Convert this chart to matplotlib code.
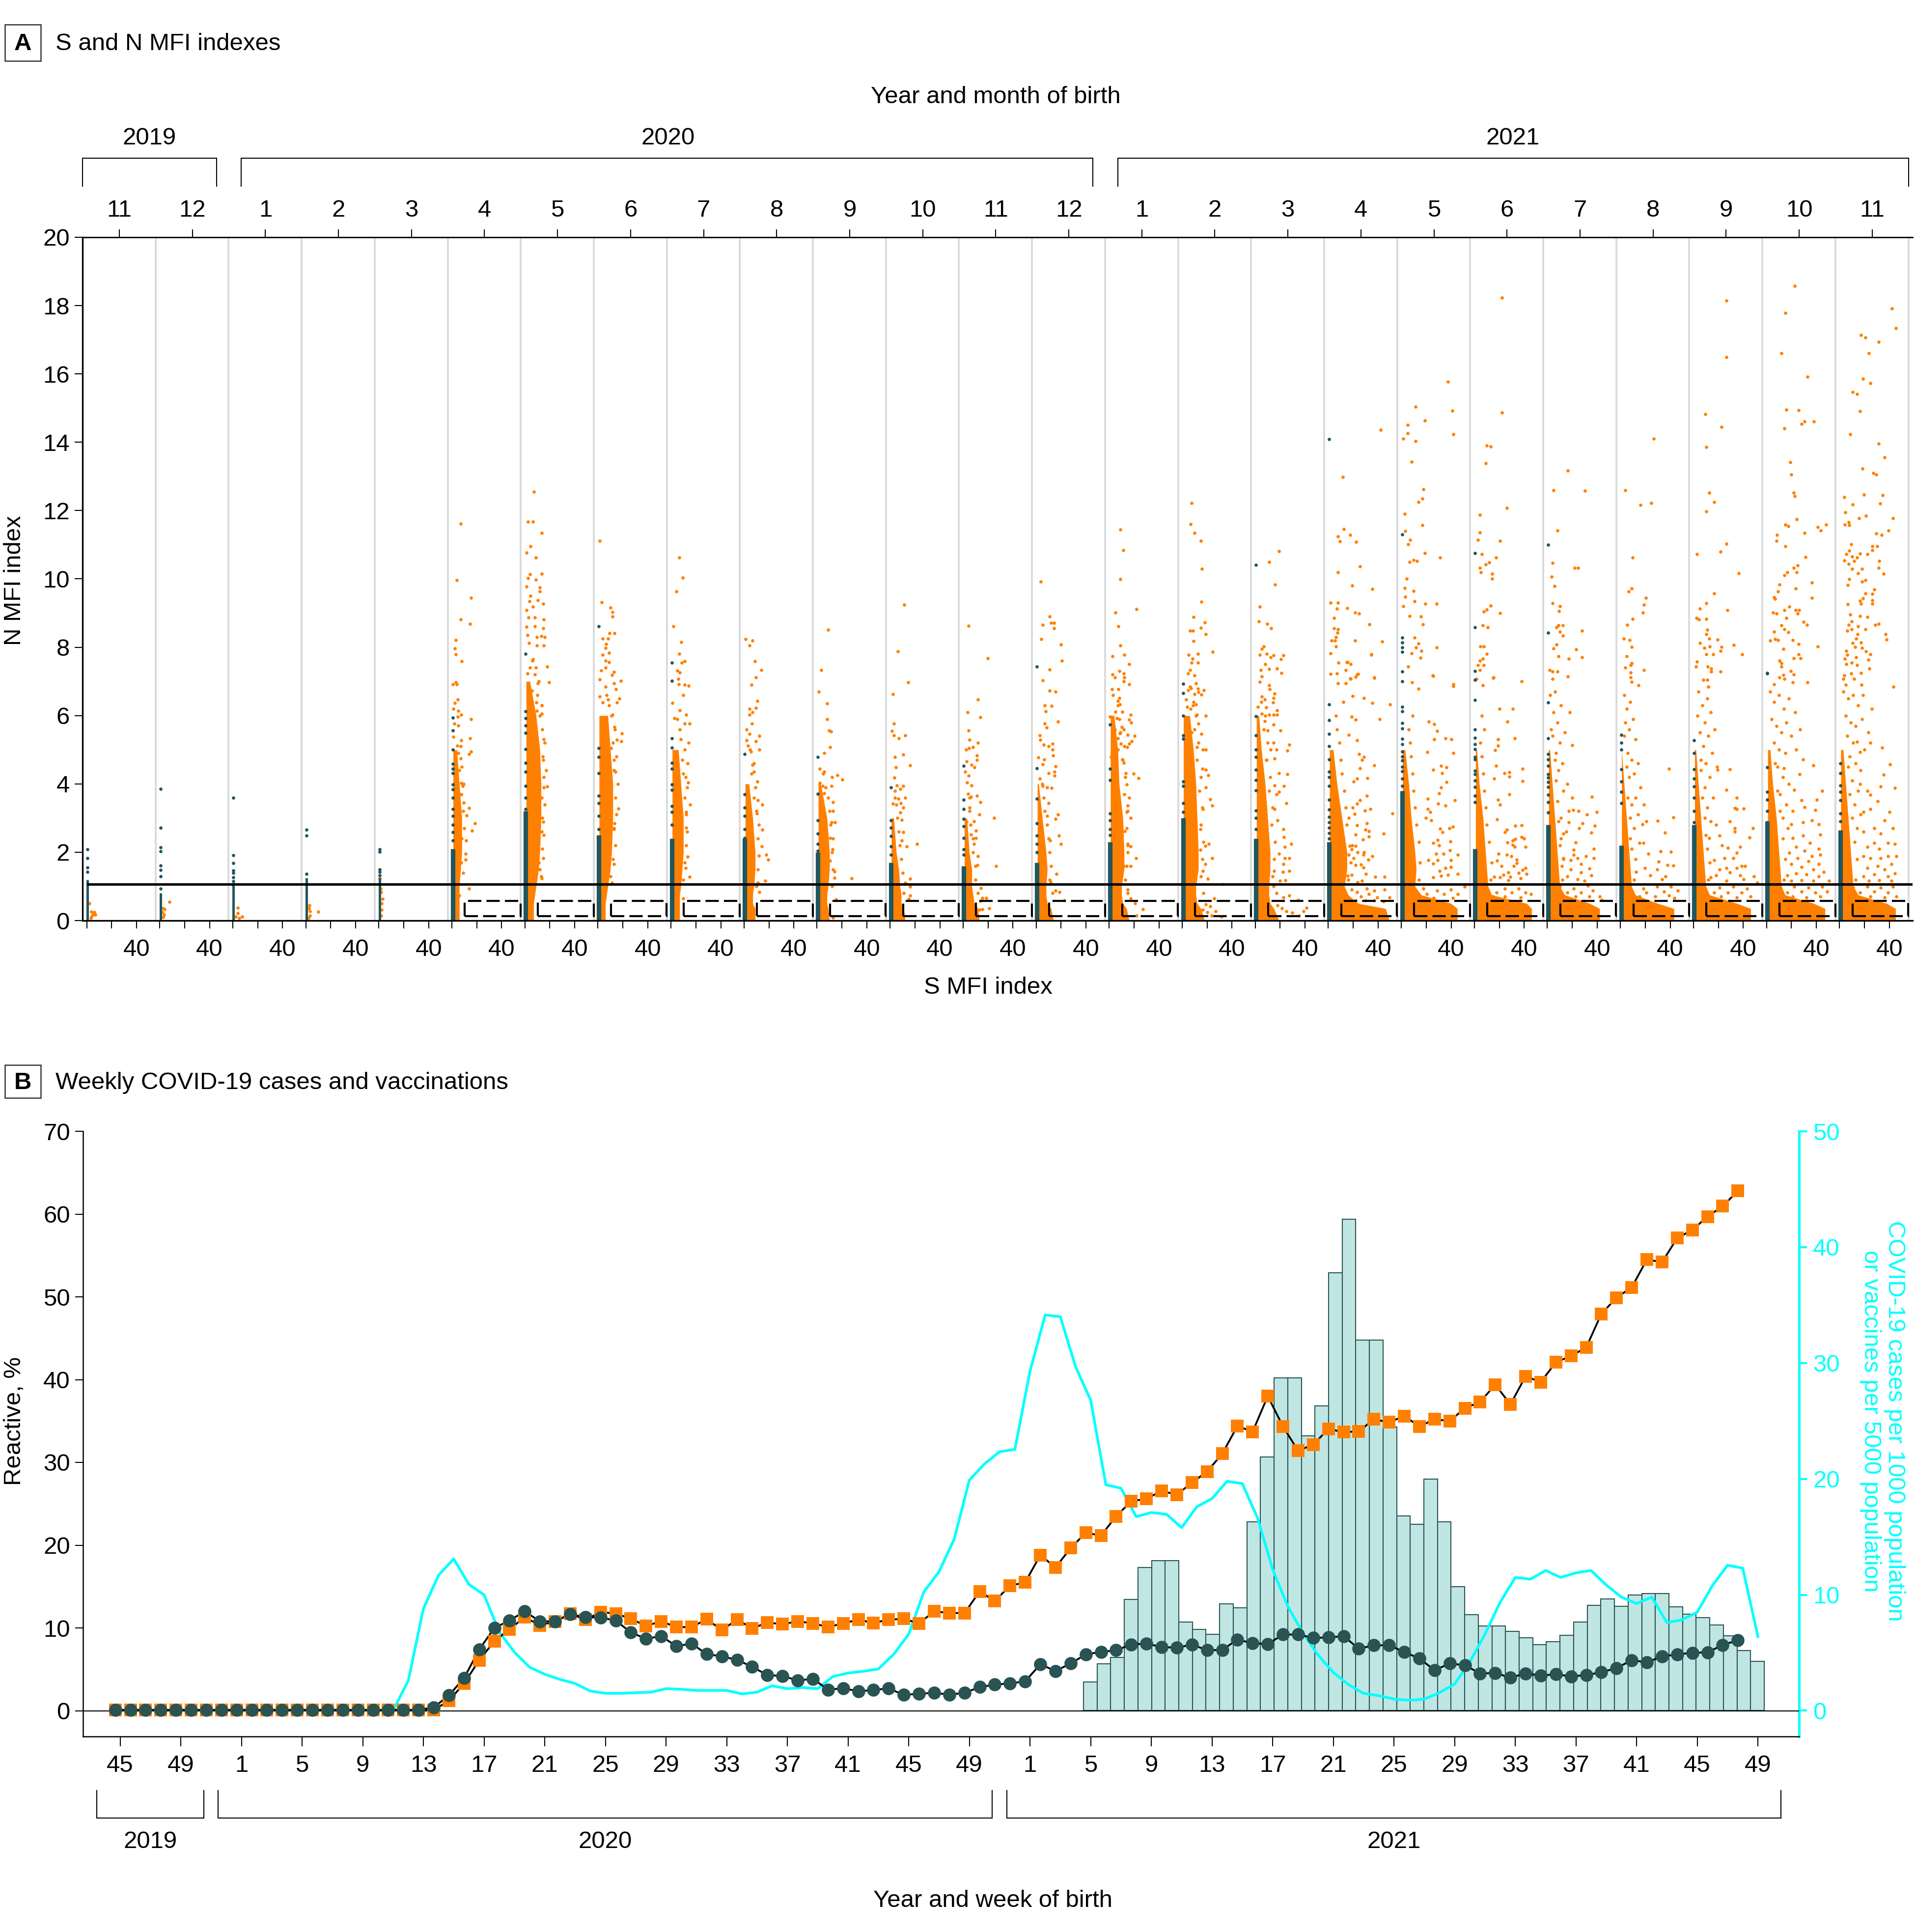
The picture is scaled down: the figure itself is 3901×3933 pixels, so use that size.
import numpy as np
import matplotlib
matplotlib.use('Agg')
import matplotlib.pyplot as plt
from matplotlib.lines import Line2D
from matplotlib.patches import Rectangle

W, H = 3901, 3933
FONT = ['Liberation Sans', 'DejaVu Sans']
plt.rcParams['font.family'] = FONT
plt.rcParams['font.size'] = 11.8

ORANGE = '#ff8000'
TEAL_A = '#20565f'
TEAL_B = '#2a5353'
CYAN = '#00ffff'
BAR = '#c0e6e4'
GRAY = '#d9d9d9'

# panel A: months, columns of the plot
months = [11, 12, 1, 2, 3, 4, 5, 6, 7, 8, 9, 10, 11, 12, 1, 2, 3, 4, 5, 6, 7, 8, 9, 10, 11]
s_ticks = [0, 20, 40]
cutoff_n = 1.06
box_s = (10.4, 55.2)
box_n = (0.13, 0.57)

# height of the solid dark column at S about 0
teal_solid = [1.2, 0.8, 1.05, 1.25, 1.25, 2.1, 3.2, 2.5, 2.4, 2.4, 2.0, 1.7, 1.6, 1.7, 2.3, 3.0, 2.4,
              2.3, 3.8, 2.1, 2.8, 2.2, 2.8, 2.9, 2.65]
# single dark dots above the column
teal_n = [
    [2.09, 1.83, 1.55, 1.42],
    [3.85, 2.72, 2.14, 2.03, 1.61, 1.48, 1.3, 0.94],
    [3.6, 1.91, 1.68, 1.47, 1.39, 1.27, 1.15],
    [2.66, 2.49, 1.36],
    [2.09, 2.01, 1.49, 1.42, 1.32],
    [5.94, 5.57, 5.0, 4.58, 4.45, 4.32, 3.98, 3.84, 3.6, 3.27, 3.06, 2.8, 2.59, 2.34],
    [7.81, 6.12, 5.93, 5.71, 5.49, 5.02, 4.62, 4.36, 3.94, 3.6, 3.27],
    [8.61, 5.04, 4.79, 4.32, 3.65, 3.44, 3.06, 2.68],
    [7.55, 7.02, 5.33, 5.06, 4.62, 4.45, 3.98, 3.82, 3.35, 3.18, 2.8],
    [4.87, 3.69, 3.31, 3.06, 2.68, 2.42],
    [4.79, 3.71, 2.93, 2.55, 2.25, 2.04],
    [3.9, 2.93, 2.72, 2.47, 2.17, 1.92],
    [4.53, 3.54, 3.27, 2.97, 2.76, 2.42, 2.09, 1.92],
    [7.43, 4.46, 3.56, 2.85, 2.49, 2.25, 2.0],
    [5.74, 4.45, 4.11, 3.14, 2.93, 2.68, 2.5],
    [6.93, 6.66, 6.0, 5.42, 5.32, 4.07, 3.94, 3.44, 3.18, 2.85, 2.5],
    [10.41, 5.98, 5.42, 5.0, 4.79, 4.42, 4.11, 3.81, 3.22, 3.0, 2.68],
    [14.09, 6.33, 5.86, 5.46, 5.11, 4.72, 4.35, 4.2, 3.94, 3.54, 3.25, 3.04, 2.88, 2.72, 2.56, 2.4],
    [11.3, 8.28, 8.14, 7.99, 7.87, 7.29, 7.0, 6.26, 6.12, 5.78, 5.62, 5.32, 5.16, 4.95, 4.8, 4.69, 4.5, 4.37, 4.15, 3.94],
    [10.75, 8.59, 7.31, 7.05, 6.45, 5.59, 5.35, 5.16, 5.02, 4.79, 4.71, 4.39, 4.29, 4.1, 3.91, 3.65, 3.46],
    [11.0, 8.42, 6.38, 5.34, 4.87, 4.71, 4.53, 4.29, 4.18, 4.05, 3.91, 3.68, 3.46, 3.17],
    [5.43, 5.2, 5.0, 4.43, 4.07, 3.77, 3.43],
    [5.27, 4.9, 4.43, 4.16, 3.93, 3.6, 3.21, 2.88],
    [7.23, 7.25, 4.49, 3.77, 3.54, 3.21, 2.88],
    [4.6, 4.32, 3.96, 3.77, 3.52, 3.13, 2.9],
]

# outline of the solid orange mass: widest S at each N level
core_n = [0, 0.35, 0.5, 0.75, 1, 1.5, 2, 3, 4, 5, 6, 7]
core_s = [
    [0] * 12, [0] * 12, [0] * 12, [0] * 12, [0] * 12,
    [6, 6, 6, 6, 6, 7, 8, 8, 6, 4, 0, 0],
    [7, 7, 7, 8, 9, 11, 12, 13, 13, 12, 9, 4],
    [6, 6, 6, 7, 8, 10, 11, 12, 12, 10, 8, 0],
    [7, 7, 7, 7, 8, 9, 10, 10, 8, 6, 0, 0],
    [9, 9, 7, 7, 8, 9, 9, 7, 4, 0, 0, 0],
    [10, 9, 8, 8, 9, 10, 10, 8, 3, 0, 0, 0],
    [12, 11, 9, 9, 8, 7, 5, 3, 0, 0, 0, 0],
    [13, 12, 9, 8, 7, 7, 5, 3, 0, 0, 0, 0],
    [14, 12, 9, 8, 8, 9, 8, 5, 2, 0, 0, 0],
    [16, 14, 11, 10, 10, 12, 12, 11, 8, 7, 4, 0],
    [18, 15, 12, 11, 11, 13, 13, 12, 11, 9, 6, 0],
    [19, 15, 12, 11, 11, 12, 12, 10, 8, 5, 3, 0],
    [49, 46, 24, 16, 13, 15, 15, 11, 7, 4, 0, 0],
    [45, 45, 40, 16, 11, 12, 11, 8, 6, 3, 0, 0],
    [46, 46, 42, 14, 11, 10, 9, 7, 4, 2, 0, 0],
    [42, 42, 34, 14, 10, 9, 8, 6, 4, 2, 0, 0],
    [43, 43, 30, 12, 9, 8, 7, 5, 3, 1, 0, 0],
    [46, 46, 35, 13, 10, 9, 8, 6, 4, 2, 0, 0],
    [47, 47, 38, 15, 12, 11, 10, 8, 5, 3, 0, 0],
    [45, 45, 38, 15, 11, 10, 9, 7, 5, 3, 0, 0],
]

# single orange dots, (S, N), read month by month
nov19 = [(2, .5), (3.8, .26), (6.3, .24), (7, .17), (3.8, .12), (5, .17), (6.3, .19), (3.3, .07)]
dec19 = [(7.8, .55), (3.8, .33), (2.5, .36), (3.3, .17), (2.5, .1), (2, .24)]
jan20 = [(3.8, .37), (3.8, .22), (7.6, .11), (5, .07), (2.5, .12)]
feb20 = [(3, .44), (3.3, .27), (10, .26), (3.3, .14), (2.5, .36), (2, .07)]
mar20 = [(.5, 1.23), (1.8, .83), (3, .63), (2.3, .5), (2.3, .31), (1.8, .14), (1.3, .94)]
apr20 = [(7.2, 11.62), (3.9, 9.97), (15.3, 9.44), (7.2, 8.81), (14.4, 8.68), (3.2, 8.21), (2.3, 7.96), (3.2, 7.79),
         (7.9, 7.59), (3, 6.98), (.7, 6.91), (4, 6.91), (4.6, 6.47), (2.5, 6.37), (1.2, 6.2), (5.3, 6.14), (7.6, 6.03),
         (15.3, 5.9), (4.9, 5.97), (1.9, 5.76), (5.3, 5.71), (1.2, 5.38), (7.6, 5.27), (14.4, 5.33), (15.3, 4.95),
         (13.9, 4.87), (4.2, 5.12), (7.2, 4.74), (7.6, 4.03), (8.8, 3.94), (7.6, 3.69), (9.5, 3.45), (13.7, 3.29),
         (11.8, 3.07), (18.5, 2.84), (16.2, 2.63), (11.3, 2.34), (11.1, 1.96), (11.1, 1.78), (7.6, 1.7), (13.7, .94),
         (5.8, .74),
         (9, 1.4), (8, 2.4), (10, 2.7), (9, 3.2), (7.5, 3.7), (9.5, 4.0), (6, 4.4), (8, 4.5), (5, 4.9), (7, 5.1)]
may20 = [(7.2, 12.55), (2.3, 11.67), (6.3, 11.67), (13.7, 11.35), (4.6, 10.95), (1.4, 10.77), (8.6, 10.63), (3.9, 10.14),
         (13.7, 10.15), (2.5, 10.02), (8.6, 9.98), (1.4, 9.78), (12, 9.75), (12, 9.63), (4.6, 9.51), (3.7, 9.34), (10.4, 9.37),
         (6.5, 9.19), (14.6, 9.28), (1.4, 9.08), (2.8, 8.87), (15.3, 8.81), (7.9, 8.87), (1.4, 8.6), (7.9, 8.61), (14.6, 8.56),
         (2.1, 8.35), (9.5, 8.29), (13.2, 8.33), (16, 8.29), (3.2, 8.12), (9.5, 8.05), (15.3, 8.05), (6.3, 7.65), (17.8, 7.43),
         (8.6, 7.4), (19.4, 6.98), (2.1, 7.23), (10.2, 6.94), (5.6, 6.73), (9, 6.39), (13.7, 6.3), (13.7, 6.05), (9.5, 6.14),
         (15.3, 5.3), (14.6, 4.7), (15.3, 4.2), (17.8, 3.92), (13.7, 3.6), (14.8, 2.89), (13.7, 2.6), (14.6, 1.83), (12, 1.5),
         (13.7, 1.24),
         (13, 1.3), (11, 1.7), (14, 2.1), (15, 2.5), (14, 3.0), (16, 3.4), (15, 3.9), (17, 4.4), (14.5, 4.8), (16, 5.2), (14, 5.6),
         (12, 6.0), (13.5, 6.3), (10, 6.6), (11, 7.0), (8, 7.2), (4, 7.4), (6, 7.6)]
jun20 = [(1.4, 11.12), (3, 9.31), (10.2, 9.16), (11.8, 9.03), (11.8, 8.9), (9.5, 8.41), (13.4, 8.41), (3.7, 8.26), (8.3, 8.25),
         (6.7, 8.1), (6, 7.98), (3.7, 7.78), (8.8, 7.84), (6, 7.61), (8.8, 7.57), (2.5, 7.32), (13, 7.28), (11.1, 7.19), (6, 7.4),
         (18.3, 7.02), (1.4, 7.06), (13, 6.94), (6, 6.85), (14.6, 6.77), (17.1, 6.5), (1.4, 6.56), (15.3, 6.39), (8.3, 6.47),
         (3.7, 6.39), (11.8, 6.03), (13.4, 5.67), (19, 5.48), (15.3, 5.29), (18.8, 5.25), (10.6, 5.04), (13, 4.7), (14.1, 4.35),
         (16.4, 3.28), (13.4, 2.84), (13, 2.68), (13, 1.66), (11.1, 1.11),
         (10, 1.3), (12, 1.8), (14, 2.2), (13, 2.7), (15, 3.1), (14, 3.6), (16, 4.0), (13, 4.4), (15, 4.8), (12, 5.2), (13.5, 5.6),
         (11, 6.0), (9, 6.3), (7, 6.6)]
jul20 = [(6.7, 10.63), (9.3, 10.04), (4.2, 9.64), (1.9, 8.61), (8.3, 8.15), (6.7, 7.81), (10.9, 7.59), (8.6, 7.55), (5.1, 7.32),
         (6.9, 7.26), (6, 7.08), (6.3, 6.92), (10.9, 6.9), (14.1, 6.87), (10, 6.6), (1.2, 6.37), (6.9, 6.16), (12, 6.03), (2.8, 5.92),
         (10.9, 5.76), (15, 5.77), (14.1, 5.21), (13.2, 4.6), (13.9, 4.04), (11.6, 4.2), (15.5, 3.39), (12, 3.18), (12, 2.72),
         (13.2, 1.87), (11.6, 1.54), (14.8, 1.28), (9.7, .65),
         (10, 1.2), (11, 1.7), (12, 2.2), (13, 2.6), (12, 3.1), (11, 3.6), (13, 3.9), (10, 4.3), (9, 4.7), (11, 5.0), (8, 5.3), (7, 5.6), (5, 5.9)]
aug20 = [(1.2, 8.24), (6.7, 8.2), (4.4, 8.05), (8.6, 7.59), (13.7, 7.33), (9.5, 7.12), (6, 6.9), (10.6, 6.42), (4.4, 6.2), (9.5, 6.22),
         (6.7, 6.09), (4.4, 6.03), (6.3, 5.77), (2.1, 5.59), (4.4, 5.47), (12.3, 5.4), (2.1, 5.27), (9.5, 5.25), (3.2, 5.12), (12.3, 5.01),
         (5.6, 4.95), (6.7, 4.56), (7.9, 4.36), (10.9, 4.07), (11.3, 3.52), (14.8, 3.39), (10.2, 3.14), (14.8, 2.66), (14.1, 2.17),
         (17.8, 1.93), (19.4, 1.78), (17.1, 1.16), (11.3, 1.11), (12.5, .83),
         (10, 1), (11, 1.5), (12, 1.9), (11, 2.4), (12, 2.8), (10, 3.2), (8, 3.6), (9, 3.9), (6, 4.3), (8, 4.6), (5, 5.0)]
sep20 = [(8.8, 8.51), (3.2, 7.33), (1.4, 6.7), (8.1, 6.36), (8.1, 5.9), (9.7, 5.57), (11.3, 5.53), (10.4, 5.08), (5.6, 4.9), (2.3, 4.45),
         (5.8, 4.36), (16.2, 4.25), (20.4, 4.12), (12, 4.2), (2.3, 4.03), (4.6, 3.94), (11.6, 3.94), (5.8, 3.73), (12.7, 3.46), (12.7, 3.2),
         (14.4, 2.88), (11.6, 2.88), (3.5, 3.35), (10.4, 2.42), (12.3, 2.09), (13.9, 1.44), (13.9, 1.25), (27.8, 1.23), (10.4, 1.75),
         (15, .62), (12.7, .08),
         (12, 1), (13, 1.5), (12, 2), (13, 2.4), (11, 2.8), (10, 3.2), (9, 3.6), (7, 3.9), (5, 4.3)]
oct20 = [(11.3, 9.24), (6.3, 7.88), (14.6, 6.98), (2.3, 6.63), (3, 5.77), (1.4, 5.55), (3, 5.42), (7.2, 5.33), (12, 5.42), (10.4, 4.86),
         (3.9, 4.79), (16, 4.54), (4.6, 4.49), (3.5, 4.19), (10.4, 3.94), (8.1, 3.86), (5.3, 3.96), (12.3, 3.59), (3.9, 3.6), (6.7, 3.56),
         (2.3, 3.42), (8.6, 3.44), (10.4, 3.31), (8.1, 3.17), (9.5, 2.95), (10.4, 2.59), (21.5, 2.25), (13.2, 2.17), (9.3, 2.34), (16, 1.22),
         (16.2, .99), (16.2, .73), (15, .63),
         (11, .8), (12, 1.1), (10, 1.4), (9, 1.8), (8, 2.2), (7, 2.6), (6, 3), (5, 3.4), (4, 3.8)]
nov20 = [(4.4, 8.63), (19.9, 7.68), (12, 6.47), (3.7, 6.1), (13.7, 5.95), (4.4, 5.57), (5.3, 5.29), (12, 5.2), (4.6, 5.04), (7.9, 5.07),
         (2.3, 5.0), (10.9, 4.83), (10.9, 4.7), (2.8, 4.66), (6.9, 4.56), (9.3, 4.49), (1.6, 4.36), (4.4, 4.24), (3, 4.04), (6.9, 3.96),
         (3.9, 3.71), (10.9, 3.65), (6.3, 3.62), (13.7, 3.46), (5.3, 3.31), (13.2, 3.1), (24.8, 3.01), (8.6, 2.91), (2.8, 2.89), (10.2, 2.63),
         (6.3, 2.51), (10.2, 2.42), (8.6, 2.25), (12, 1.89), (26.4, 1.6), (11.3, 1.62), (14.4, .95), (15.5, .66), (18.5, .66), (13.9, .57),
         (20.8, .36), (15.5, .33), (13.2, .31),
         (12, .8), (10, 1.2), (10, 1.6), (8, 2), (8, 2.4), (6, 2.8), (5, 3.2), (5, 3.6)]
dec20 = [(3.7, 9.92), (10.9, 8.9), (5.3, 8.65), (11.8, 8.71), (14.4, 8.71), (14.4, 8.56), (4.2, 8.24), (19.9, 8.08), (20.8, 7.6), (10.9, 7.35),
         (5.3, 7.03), (10.9, 6.73), (15.7, 6.7), (6.9, 6.3), (12.5, 6.28), (7.6, 6.12), (6.9, 5.77), (17.4, 5.82), (8.3, 5.65), (2.8, 5.42),
         (3.5, 5.29), (6, 5.15), (13, 5.17), (10.2, 5.1), (13, 5.0), (13.4, 4.83), (1.9, 4.77), (6.5, 4.72), (15.7, 4.52), (5.3, 4.57), (10, 4.32),
         (14.6, 4.35), (14.6, 4.24), (3, 4.15), (8.8, 3.9), (5.3, 3.94), (12.3, 3.88), (10, 3.44), (8.8, 3.06), (17.4, 3.11), (15.7, 2.97),
         (18.5, 2.49), (19.7, 2.25), (11.1, 2.34), (16.4, 1.37), (11.6, 1.14), (18.7, .84), (22.5, .59), (15.7, .87),
         (13, .8), (11, 1.2), (12, 1.6), (11, 2), (10, 2.4), (9, 2.8), (7, 3.2), (6, 3.6), (5, 4)]
jan21 = [(9, 11.44), (11.3, 10.84), (9, 9.99), (4.9, 9.01), (22, 9.11), (7.4, 8.61), (9, 8.05), (2.5, 7.73), (12.3, 7.78), (16.2, 7.5), (8.3, 7.31),
         (2.8, 7.21), (11.6, 7.23), (4.6, 7.11), (12, 7.11), (11.8, 7.0), (16.2, 6.92), (2.3, 6.77), (7.2, 6.77), (3, 6.6), (8.3, 6.52), (6.9, 6.43),
         (8.6, 6.32), (4.9, 6.11), (10.4, 6.11), (.7, 5.97), (6.3, 5.93), (16.2, 5.88), (17.4, 6.03), (17.8, 5.8), (10, 5.67), (4.6, 5.59), (11.6, 5.59),
         (8.6, 5.48), (15, 5.44), (20.4, 5.4), (3.5, 5.33), (6.9, 5.33), (18.1, 5.25), (16.2, 5.17), (9.3, 5.17), (14.6, 5.08), (2.3, 5.0), (6.9, 5.0),
         (10.4, 4.72), (1.6, 4.79), (4.6, 4.57), (11.6, 4.62), (19.7, 4.3), (23.6, 4.17), (13.2, 4.32), (13.9, 3.98), (16.2, 3.6), (15, 3.37), (13.9, 3.18),
         (17.4, 3.01), (12.7, 2.61), (15, 2.24), (17.4, 2.17), (15, 2.0), (21.5, 1.83), (17.4, 1.6), (11.6, 1.6), (15, .9), (17.4, .65), (20.8, .51),
         (27.1, .33), (22, .15),
         (15, .8), (13, 1.2), (14, 1.6), (15, 2.2), (14, 2.7), (15, 3.2), (12, 3.7), (13, 4.2), (11, 4.7), (12, 5.1), (9, 5.5), (8, 5.9), (7, 6.3)]
feb21 = [(7.4, 12.22), (6.7, 11.6), (9.7, 11.34), (14.8, 11.11), (15.7, 10.29), (15.5, 9.33), (9, 8.88), (18.1, 8.73), (14.8, 8.57), (6.3, 8.49), (8.6, 8.49),
         (19, 8.38), (9, 8.18), (24.5, 7.86), (5.1, 7.78), (12.5, 7.81), (8.3, 7.66), (12.5, 7.55), (7.4, 7.55), (6.5, 7.34), (4.6, 7.23), (9.7, 7.17), (10.9, 6.94),
         (6.3, 6.85), (12.5, 6.79), (17.4, 6.75), (4.6, 6.75), (9.7, 6.63), (15.5, 6.62), (13.2, 6.68), (3.2, 6.47), (8.6, 6.3), (10.9, 6.32), (3.9, 6.26), (6.7, 6.2),
         (19, 6.0), (12, 6.03), (3.9, 5.67), (13.2, 5.76), (15.5, 5.46), (7.4, 5.5), (16.7, 5.0), (19, 5.01), (12, 5.08), (16.2, 4.45), (19, 4.41), (20.8, 4.26), (19, 3.9),
         (22.5, 3.55), (24, 3.37), (16.7, 3.27), (14.4, 2.68), (21.3, 2.25), (18.5, 2.19), (14.4, 2.07), (24, 1.83), (18.5, 1.66), (16.7, 1.45), (20.6, 1.22), (32.2, 1.07),
         (25.5, .65), (19, .48), (22.5, .41), (27, .28), (31.7, .11), (16.7, .32), (23.6, .15), (20, .24),
         (17, .8), (15, 1.3), (16, 1.8), (17, 2.3), (15, 2.8), (16, 3.3), (14, 3.8), (15, 4.2), (12, 4.7), (13, 5.2), (10, 5.6), (11, 6), (9, 6.4), (7, 6.8)]
mar21 = [(19.2, 10.81), (11.1, 10.49), (16, 9.84), (3.7, 9.19), (3, 8.75), (9.5, 8.68), (12.7, 8.56), (6.9, 8.02), (5.3, 7.95), (3.7, 7.78), (9.3, 7.81), (14.6, 7.76),
         (22.7, 7.76), (20.8, 7.65), (12.3, 7.7), (7.9, 7.5), (4.6, 7.33), (11.1, 7.36), (17.6, 7.38), (21, 7.25), (5.3, 7.15), (3.7, 6.99), (11.1, 6.89), (11.6, 6.77),
         (15.7, 6.64), (5.3, 6.56), (14.6, 6.52), (7.6, 6.47), (14.4, 6.39), (1.9, 6.26), (8.8, 6.24), (17.6, 6.15), (5.3, 6.05), (11.1, 6.03), (14.6, 6.03), (17.6, 6.03),
         (7.6, 5.84), (14.6, 5.73), (20.1, 5.57), (10, 5.57), (27.3, 5.15), (25.7, 4.97), (14.6, 5.21), (12.3, 5.0), (16.9, 5.0), (15.7, 4.74), (8.8, 4.7), (19.2, 4.31),
         (25.7, 4.29), (23.1, 3.94), (19.2, 3.77), (15.7, 3.96), (16.9, 3.69), (25, 3.44), (15.7, 3.27), (18, 2.93), (22.7, 2.68), (28.9, 2.24), (23.8, 2.15), (23.1, 2.44),
         (19.2, 1.96), (27.3, 1.83), (23.8, 1.83), (22.7, 1.66), (27.3, 1.45), (15.3, 1.45), (22.2, 1.43), (19.7, 1.16), (24.3, 1.18), (14.6, 1), (27.3, .74), (22.7, .67),
         (18, .44), (34.3, .61), (41.2, .38), (38.9, .27), (35.4, .15), (29.6, .23), (25, .27), (21.5, .36),
         (17, .8), (14, 1.3), (15, 1.8), (16, 2.3), (13, 2.8), (14, 3.3), (11, 3.8), (12, 4.2), (9, 4.7), (10, 5.2), (7, 5.6), (8, 6), (5, 6.4)]
apr21 = [(41.9, 14.37), (11.8, 12.98), (12.6, 11.46), (7.7, 11.25), (17.5, 11.28), (9.4, 11.1), (22.4, 11.08), (25.6, 10.37), (7.7, 10.2), (19, 9.8), (35.5, 9.7), (1.9, 9.3),
         (7.7, 9.3), (6.8, 9.13), (15.2, 9.14), (21.6, 9.02), (24.8, 8.98), (4.5, 8.85), (33.1, 8.67), (4.5, 8.55), (7.7, 8.52), (7.3, 8.42), (6.2, 8.29), (2.6, 8.19), (5.3, 8.19),
         (21.6, 8.19), (43.4, 8.17), (6, 8.02), (1.9, 7.82), (34.6, 7.8), (8.3, 7.55), (15, 7.56), (18, 7.5), (14.1, 7.33), (1.9, 7.22), (6.8, 7.23), (23.9, 7.22), (21.8, 7.13),
         (37, 7.12), (17.5, 7.09), (7.7, 6.94), (14.1, 6.94), (34.5, 7.78), (37, 7.1), (28.6, 6.52), (35.5, 6.37), (49.5, 6.33), (41.2, 5.9), (23.3, 7.21), (15.8, 7.56), (18, 7.07),
         (19.5, 6.57), (18.8, 5.96), (21.8, 5.88), (23, 5.27), (16.5, 5.43), (24.5, 4.87), (28.6, 4.79), (27, 4.7), (37, 4.54), (25.6, 4.46), (31.4, 4.17), (23, 4.16), (20.3, 4.07),
         (31.2, 3.65), (25.6, 3.52), (23, 3.42), (19.5, 3.3), (33.6, 3.27), (29.4, 3.22), (51.4, 3.14), (21, 3.12), (16.5, 3.01), (23, 2.79), (31.2, 2.84), (29.7, 2.66), (32.7, 2.61),
         (21.8, 2.51), (32.7, 2.46), (44.5, 2.54), (27.9, 2.37), (17.3, 2.19), (22.1, 2.19), (18.8, 2.08), (23.6, 2), (28.6, 2), (28.2, 1.93), (16.5, 1.92), (35.2, 1.88), (32.1, 1.79),
         (20.3, 1.83), (22.1, 1.63), (26.4, 1.64), (28.2, 1.55), (30.2, 1.36), (18.8, 1.34), (15.8, 1.31), (37.7, 1.28), (45.3, 1.28), (23.6, 1.12), (27, 1.16), (18.8, .91), (23.3, .83),
         (31.2, .94), (37, .88), (45.3, .91), (26.4, .7), (32.4, .78), (39.4, .67), (49, .67), (15.8, .7), (21.8, .59), (30, .59), (37, .59), (44.5, .56),
         (16, 1.2), (18, 1.7), (19, 2.2), (15, 2.8), (14, 3.3), (13, 3.8), (11, 4.3), (10, 4.7), (9, 5.2), (7, 5.6), (6, 6), (12, 6.4)]
may21 = [(37.6, 15.77), (11.5, 15.04), (40.8, 14.92), (18.8, 14.64), (4.9, 14.51), (4.9, 14.26), (41.7, 14.24), (1.7, 14.11), (11.5, 14.04), (8.1, 13.43), (17.9, 12.63), (17.1, 12.35),
         (13.9, 12.25), (2.6, 11.91), (17.1, 11.58), (3.2, 11.4), (7.1, 11.14), (5.6, 11.01), (18.8, 10.75), (31, 10.63), (6.6, 10.5), (9.8, 10.56), (12.4, 10.52), (4.3, 10), (2.6, 9.74),
         (9.8, 9.65), (3.2, 9.47), (10.7, 9.35), (19.4, 9.27), (28.4, 9.27), (1.7, 9.2), (6.6, 8.92), (15.6, 8.9), (17.3, 8.67), (10.7, 8.28), (13.9, 8.11), (28.4, 7.99), (11.8, 7.99),
         (16.2, 7.89), (8.1, 7.82), (15.4, 7.69), (5.3, 7.44), (25.4, 7.17), (41.7, 6.92), (8.5, 6.97), (13.9, 6.78), (25.5, 7.16), (41.8, 6.86), (26.2, 5.75), (22.1, 5.82), (28.8, 5.55),
         (35.3, 5.34), (40.2, 5.3), (26.2, 5.3), (41.8, 4.9), (20.9, 4.93), (32, 4.53), (36.1, 4.49), (25.5, 4.42), (32.7, 4.31), (36.1, 4.05), (32, 3.89), (30.3, 3.73), (21.4, 3.57), (42.9, 3.52),
         (29.5, 3.42), (35.3, 3.37), (21.4, 3.27), (23.2, 3.18), (19.7, 3.01), (23.9, 2.94), (41.5, 2.74), (38.6, 2.71), (31.2, 2.69), (33, 2.59), (29.2, 2.36), (39.4, 2.31), (25.5, 2.27), (30.3, 2.2),
         (39.1, 2.06), (28, 1.96), (33.8, 1.96), (45.2, 1.92), (29.2, 1.77), (39.8, 1.77), (21.7, 1.77), (25.5, 1.67), (35.3, 1.54), (39.8, 1.57), (30.8, 1.45), (45.2, 1.36), (37.6, 1.34), (25.5, 1.27),
         (32, 1.31), (17.7, .93), (28.8, .88), (39.9, .91), (51, .99), (20.5, .77), (34.3, .77), (45.4, .77), (12.2, .82), (26, .66), (41.3, .66), (16.3, .66),
         (14, 1.2), (15, 1.7), (14, 2.3), (12, 2.8), (11, 3.3), (10, 3.8), (9, 4.3), (8, 4.8), (7, 5.2), (6, 5.6), (9, 6)]
jun21 = [(22.2, 18.23), (22.2, 14.86), (10, 13.91), (13.2, 13.87), (9.2, 13.39), (26.3, 12.08), (4.3, 11.88), (4.3, 11.36), (2.8, 11.15), (20.7, 11.11), (6, 10.72), (17.3, 10.63), (11.8, 10.48),
         (9.2, 10.42), (4.5, 10.33), (5.1, 10.19), (14.1, 10.15), (14.1, 10), (13.2, 9.21), (10, 9.1), (7.5, 9.05), (20.7, 9), (6.8, 8.64), (10.9, 8.59), (4.9, 8.02), (7.7, 8.02), (10, 7.81), (6.6, 7.66),
         (4.3, 7.6), (2.8, 7.48), (7.5, 7.47), (4.3, 7.33), (15.6, 7.12), (1.7, 7.07), (6.6, 6.88), (37.9, 7), (15.2, 7.1), (20, 6.2), (30.8, 6.2), (26.5, 5.82), (32.3, 5.34), (18.9, 5.3), (18.9, 5.12),
         (16.7, 4.99), (38.6, 4.45), (24.2, 4.31), (28, 4.34), (28, 4.21), (17.4, 4.53), (38.6, 4.09), (15.9, 4.15), (28, 3.7), (18.9, 3.54), (20.5, 3.39), (18.2, 2.96), (32.9, 2.77), (37.9, 2.79), (26.2, 2.66),
         (24.6, 2.59), (37.9, 2.45), (40, 2.4), (32.9, 2.38), (30.7, 2.34), (26.5, 2.28), (30.7, 2.21), (41.1, 2.16), (32.5, 2.16), (19.6, 1.95), (26.2, 1.92), (29.5, 1.88), (34, 1.79), (18.2, 1.76), (21.9, 1.6),
         (31.8, 1.6), (34, 1.68), (41.1, 1.54), (38.6, 1.48), (27.3, 1.41), (35.6, 1.4), (23.5, 1.34), (42, 1.36), (15.9, 1.28), (28.8, 1.28), (20.5, 1.26), (37.1, 1.23), (27.3, 1.18), (10.8, .91), (24.7, .93),
         (35.7, .93), (17.7, .82), (30.2, .82), (41.3, .82), (15, .71), (24.7, .71), (37.1, .68), (45.4, .77),
         (13, 1.2), (14, 1.7), (12, 2.3), (10, 2.8), (9, 3.3), (8, 3.8), (7, 4.3), (6, 4.8), (5, 5.2), (8, 5.6), (6, 6)]
jul21 = [(16.2, 13.17), (5, 12.6), (30.1, 12.58), (8, 11.42), (4.1, 10.47), (21.9, 10.33), (24.7, 10.32), (3.2, 10.07), (5.6, 9.79), (4.1, 9.29), (10, 9.2), (9.1, 9.06), (12.3, 8.64), (8.9, 8.64), (7.4, 8.58),
         (27.7, 8.49), (10, 8.45), (12.3, 8.34), (7.4, 8.08), (5, 7.96), (22.9, 7.94), (8.9, 7.73), (27.7, 7.71), (17.1, 7.66), (1.7, 7.33), (4.1, 7.29), (8, 7.29), (16.2, 7.15), (4.1, 7.07), (19.9, 5.14), (35.7, 3.63),
         (20.8, 3.24), (24.9, 3.21), (31.6, 3.1), (39.6, 3.18), (28.3, 2.85), (38, 2.77), (35.2, 2.57), (17.2, 2.88), (25.5, 2.71), (13, 2.54), (22.7, 2.29), (21.3, 2.07), (37.1, 2.1), (31, 1.88), (21.3, 1.93), (24.1, 1.82),
         (18.6, 1.77), (37.4, 1.82), (26.9, 1.66), (33.8, 1.52), (18.6, 1.49), (13, 1.82), (26.9, 1.41), (35.2, 1.32), (15.8, 1.29), (24.1, 1.21), (29.6, 1.16), (11.6, 1.6), (10.2, .99), (21.3, .93), (32.4, 1.02), (15.8, .82),
         (26.9, .82), (36.6, .88), (42.1, .71), (22.7, .71), (33.8, .71), (10.2, .77), (43.5, .6),
         (3, 5.6), (5, 6.1), (8, 5.8), (11, 6.3), (2, 6.6), (6, 6.7), (14, 5.5), (10, 5.2), (4, 5.4), (18, 6.1), (7, 4.9), (12, 4.6), (9, 4.4), (16, 4.0), (20, 3.6), (13, 3.8), (17, 3.2), (11, 3.0), (15, 2.6), (10, 2.2),
         (12, 1.2), (13, 1.8), (11, 2.4), (9, 2.9), (8, 3.5), (7, 4.1), (6, 4.7)]
aug21 = [(26.9, 14.11), (4, 12.6), (16.1, 12.17), (24.6, 12.22), (9.8, 10.62), (9, 9.72), (6.6, 9.64), (20.5, 9.44), (18.7, 9.24), (17.9, 9.01), (9.8, 8.83), (5.5, 8.66), (2.5, 8.26), (7.5, 8.21), (9, 8.01), (4.9, 7.73),
         (9, 7.53), (8.1, 7.47), (4, 7.4), (18.7, 7.33), (8.1, 7.26), (8.1, 7.11), (9, 6.99), (14.6, 6.89), (39, 4.44), (29.9, 2.92), (21, 2.91), (17.7, 2.82), (42.7, 3.02), (35.7, 2.57), (15.5, 2.27), (18.3, 2.27), (40.4, 2.02),
         (32.1, 2.03), (22.4, 1.96), (30.7, 1.72), (37.7, 1.63), (42.7, 1.61), (29.4, 1.49), (19.7, 1.54), (36.3, 1.29), (33.5, 1.21), (23.8, 1.32), (12.7, 1.43), (46, .88), (40.4, .99), (18.3, .93), (29.4, .99), (21, .82),
         (34.9, .85), (15.5, .71), (28, .71), (39, .74), (43.2, .66),
         (3, 6.6), (5, 6.2), (8, 6.4), (4, 5.8), (7, 5.6), (10, 5.9), (3, 5.4), (12, 5.3), (6, 4.9), (9, 4.7), (14, 4.6), (11, 4.3), (7, 4.2), (16, 3.9), (12, 3.6), (9, 3.4), (14, 3.1), (19, 3.4), (11, 2.7), (8, 2.4),
         (11, 1.2), (12, 1.8), (9, 2.1), (8, 3.0), (6, 3.6), (5, 4.5)]
sep21 = [(26.5, 18.15), (26.5, 16.49), (9.4, 14.83), (22.6, 14.45), (10.3, 13.86), (12.7, 12.52), (16.8, 12.25), (10.3, 11.97), (26.5, 11.03), (21.8, 10.8), (2.9, 10.72), (36.3, 10.17), (16.8, 9.57), (10.3, 9.29), (5.3, 9.13),
         (27.4, 9.09), (2.5, 8.86), (4.4, 8.82), (10.3, 8.83), (10.9, 8.51), (10.3, 8.38), (12.7, 8.26), (19.2, 8.23), (5.3, 8.13), (32.4, 8.06), (22.4, 8.01), (13.1, 8.02), (8.8, 7.98), (21.8, 7.9), (10.3, 7.79), (15.9, 7.79),
         (38.9, 7.8), (2.9, 7.58), (2.1, 7.43), (11.6, 7.43), (14.4, 7.37), (14.4, 7.29), (21.8, 7.29), (7.9, 7.04), (11.1, 7.04), (11.8, 6.85), (29.1, 4.43), (19.4, 4.41), (26.3, 3.82), (34.6, 3.6), (34.6, 3.27), (33.2, 3.29),
         (40.2, 3.28), (29.1, 2.91), (33.2, 2.71), (33.2, 2.6), (47.9, 2.71), (45.2, 2.43), (20.8, 2.49), (12.5, 2.41), (27.7, 2.13), (37.4, 2.16), (34.6, 1.99), (31.9, 1.82), (24.9, 1.82), (16.6, 1.77), (26.3, 1.54), (38.8, 1.6),
         (34.6, 1.54), (41.6, 1.6), (20.8, 1.49), (29.1, 1.41), (37.4, 1.32), (48.5, 1.29), (18, 1.32), (40.2, 1.21), (26.3, 1.16), (13.9, 1.27), (51.2, 1.11), (9.7, .93), (20.8, .96), (31.9, .99), (42.9, .93), (16.6, .82),
         (27.7, .82), (38.8, .82), (22.2, .71), (34.6, .68), (45.7, .71),
         (4, 6.7), (7, 6.3), (11, 6.5), (3, 6.0), (9, 5.8), (14, 6.1), (5, 5.5), (12, 5.4), (17, 5.6), (8, 5.1), (15, 4.9), (10, 4.6), (6, 4.4), (19, 4.5), (13, 4.2), (9, 3.9), (16, 3.6), (11, 3.3), (14, 2.9), (18, 2.8), (10, 2.5), (23, 2.2),
         (12, 1.2), (13, 1.7), (11, 2.1), (9, 3.0), (7, 3.6), (6, 4.7)]
oct21 = [(22.6, 18.58), (15, 17.79), (12, 16.61), (33, 15.92), (16.1, 14.95), (25.9, 14.94), (30.6, 14.61), (28.2, 14.53), (38, 14.61), (14.4, 14.4), (19.2, 13.42), (20, 13.05), (21.8, 12.52), (22.6, 12.42), (24.1, 11.75),
         (15.3, 11.59), (17.6, 11.54), (41.2, 11.52), (47.9, 11.59), (43.6, 11.42), (30.6, 11.35), (8.5, 11.29), (7.9, 11.12), (15.3, 10.96), (31.5, 10.64), (25, 10.4), (21.8, 10.32), (24.1, 10.19), (16.8, 10.19), (14.4, 10.11),
         (36.5, 9.89), (10.3, 9.84), (23.3, 9.72), (9.4, 9.64), (6, 9.46), (6.8, 9.42), (36.5, 9.44), (18.5, 9.19), (23.3, 9.09), (26.1, 9.09), (14.4, 9.09), (5.3, 9.01), (7.9, 8.98), (25, 8.98), (16.1, 8.86), (29.8, 8.74), (32.4, 8.66),
         (12, 8.64), (14.4, 8.53), (6.2, 8.45), (17.6, 8.44), (2.9, 8.19), (7, 8.24), (9.4, 8.21), (20.9, 8.21), (25.9, 8.09), (41.2, 8.03), (13.5, 7.95), (25.9, 7.79), (21.8, 7.68), (27.4, 7.68), (10.3, 7.61), (12, 7.54), (12, 7.43),
         (19.4, 7.31), (21.8, 7.21), (13.5, 7.19), (10.3, 7.11), (14.4, 7.07), (33, 6.98), (20.9, 6.97), (6.2, 6.91), (44.6, 3.79), (37.7, 4.54), (14.1, 4.46), (26.6, 4.29), (29.4, 4.71), (22.4, 3.82), (28, 3.52), (40.4, 3.54), (30.7, 3.32),
         (21.1, 3.21), (39.1, 3.24), (43.2, 2.52), (36.3, 2.93), (29.4, 2.88), (19.7, 2.82), (41.8, 2.82), (21.1, 2.41), (29.4, 2.49), (34.9, 2.27), (23.8, 2.16), (41.8, 2.1), (30.7, 2.04), (18.3, 1.99), (43.2, 1.93), (36.3, 1.88), (25.2, 1.82),
         (33.5, 1.74), (19.7, 1.66), (41.8, 1.66), (28, 1.57), (37.7, 1.49), (46, 1.43), (23.8, 1.38), (32.1, 1.35), (41.8, 1.29), (16.9, 1.32), (50.1, 1.16), (28, 1.18), (37.7, 1.16), (19.7, 1.16), (11.4, .96), (22.4, .99), (33.5, .96), (44.6, .99),
         (16.9, .82), (28, .85), (39.1, .82), (48.8, .85), (8.6, .71), (21.1, .71), (32.1, .68), (43.2, .71),
         (3, 6.7), (6, 6.4), (10, 6.6), (14, 6.2), (18, 6.5), (23, 6.1), (4, 5.9), (8, 5.7), (12, 5.5), (16, 5.8), (20, 5.4), (27, 5.6), (6, 5.2), (10, 5.0), (15, 4.9), (24, 5.0), (9, 4.5), (13, 4.2), (18, 4.0), (11, 3.7), (16, 3.4), (13, 3.0), (17, 2.7),
         (14, 1.2), (15, 1.8), (13, 2.4), (11, 3.2), (9, 3.8), (7, 4.6)]
nov21 = [(41.9, 17.92), (45.1, 17.34), (17.4, 17.14), (20.7, 17.07), (31.3, 16.94), (23.7, 16.61), (19, 15.86), (24.8, 15.73), (10.7, 15.47), (14.2, 15.41), (16.6, 14.91), (8.5, 14.23), (31.3, 13.96), (36, 13.56), (18.3, 13.23), (27, 13.1),
         (29.5, 13.05), (3.8, 12.4), (19.8, 12.47), (34.5, 12.45), (10.7, 12.18), (32.8, 12.2), (4.7, 11.95), (15.7, 11.77), (21.3, 11.85), (42.7, 11.77), (7.2, 11.66), (4.4, 11.59), (7.9, 11.57), (39.3, 11.42), (29.5, 11.33), (33.7, 11.28),
         (9.2, 11.01), (26.3, 10.96), (30.2, 10.96), (26.3, 10.84), (7.7, 10.82), (5.5, 10.72), (10.1, 10.65), (16.6, 10.74), (22.2, 10.72), (14.2, 10.62), (3.8, 10.54), (11.8, 10.52), (7.2, 10.44), (31.9, 10.52), (31.3, 10.33), (10.1, 10.29),
         (18.1, 10.29), (14.8, 10.17), (35.2, 10.15), (7.7, 9.99), (20.7, 9.97), (18.1, 9.92), (6.4, 9.82), (27.8, 9.69), (20.7, 9.58), (26.3, 9.56), (19, 9.43), (26.3, 9.38), (16.6, 9.36), (6.4, 9.26), (17.2, 9.27), (26.3, 9.27), (8.5, 8.96),
         (16.6, 8.91), (22.2, 8.89), (9.8, 8.75), (7.2, 8.66), (28.7, 8.66), (31.3, 8.69), (14.8, 8.61), (20.7, 8.53), (9.6, 8.52), (6.2, 8.49), (36.9, 8.38), (14.4, 8.38), (37.8, 8.23), (13.3, 8.26), (17.2, 8.14), (10.7, 8.12), (12.4, 8.01),
         (18.1, 7.98), (5.3, 7.9), (21.3, 7.88), (24.8, 7.79), (6, 7.78), (13.3, 7.71), (23.1, 7.63), (4.4, 7.67), (9.8, 7.55), (14.2, 7.48), (23.9, 7.38), (5.5, 7.51), (17.2, 7.25), (3.8, 7.18), (9.2, 7.23), (11.8, 7.07), (3.2, 7.07), (17.7, 6.9),
         (4.9, 6.9), (43.4, 6.84), (34.1, 5.06), (40.7, 4.57), (35.5, 4.27), (24.9, 5.21), (16.6, 4.93), (13.9, 5.24), (33.2, 3.93), (44.3, 3.88), (22.2, 3.79), (24.9, 3.68), (16.6, 3.99), (30.5, 3.49), (40.2, 3.18), (19.4, 3.18), (24.9, 3.27),
         (36, 2.93), (42.9, 2.71), (27.7, 2.71), (33.2, 2.54), (19.4, 2.6), (38.8, 2.27), (44.3, 2.24), (27.7, 2.27), (22.2, 2.16), (31.9, 2.1), (45.7, 1.88), (38.8, 1.88), (24.9, 1.82), (33.2, 1.82), (19.4, 1.88), (41.5, 1.66), (30.5, 1.6),
         (22.2, 1.54), (36, 1.49), (44.3, 1.38), (27.7, 1.35), (38.8, 1.29), (19.4, 1.29), (31.9, 1.18), (41.5, 1.16), (23.5, 1.16), (11.1, .96), (22.2, .99), (33.2, .96), (42.9, .99), (16.6, .82), (27.7, .85), (38.8, .82), (13.9, .71), (24.9, .71),
         (36, .68), (45.7, .71),
         (3, 6.7), (7, 6.5), (11, 6.6), (15, 6.3), (19, 6.6), (26, 6.2), (5, 6.0), (9, 5.8), (13, 5.7), (18, 5.9), (23, 5.5), (6, 5.4), (11, 5.2), (20, 5.0), (8, 4.8), (13, 4.6), (17, 4.4), (10, 4.1), (15, 3.8), (12, 3.4), (17, 3.1), (14, 2.7),
         (13, 1.2), (14, 1.8), (12, 2.3), (10, 3.0), (8, 3.7), (7, 4.5)]
orange_dots = [nov19, dec19, jan20, feb20, mar20, apr20, may20, jun20, jul20, aug20, sep20, oct20, nov20, dec20,
               jan21, feb21, mar21, apr21, may21, jun21, jul21, aug21, sep21, oct21, nov21]

# panel B: one value per week, starting at week 45 of 2019
orange_pct = [0.1] * 21 + [0.1, 1.2, 3.3, 6.1, 8.4, 9.85, 11.3, 10.3, 10.8, 11.7, 11.0, 11.9, 11.75, 11.1, 10.25, 10.8, 10.1, 10.1, 11.05,
              9.75, 11.0, 9.95, 10.65, 10.45, 10.8, 10.55, 10.1, 10.55, 11.0, 10.6, 11.0, 11.1, 10.55, 12.0, 11.8, 11.8, 14.4, 13.25,
              15.1, 15.5, 18.8, 17.3, 19.65, 21.5, 21.15, 23.5, 25.3, 25.6, 26.55, 26.1, 27.55, 28.9, 31.05, 34.4, 33.7, 38.0, 34.35,
              31.4, 32.15, 34.05, 33.65, 33.75, 35.2, 34.85, 35.6, 34.35, 35.2, 35.0, 36.55, 37.3, 39.4, 37.0, 40.4, 39.7, 42.1, 42.85,
              43.9, 47.95, 49.9, 51.15, 54.5, 54.2, 57.1, 58.1, 59.7, 60.95, 62.8]
teal_pct = [0.1] * 21 + [0.4, 1.85, 3.95, 7.4, 10.0, 10.9, 12.0, 10.8, 10.8, 11.65, 11.3, 11.25, 10.9, 9.45, 8.7, 9.0, 7.8, 8.1, 6.85, 6.55,
            6.15, 5.3, 4.3, 4.2, 3.65, 3.85, 2.55, 2.7, 2.35, 2.5, 2.7, 1.9, 2.05, 2.15, 1.95, 2.15, 2.85, 3.15, 3.3, 3.55, 5.6, 4.8, 5.7,
            6.8, 7.1, 7.3, 8.0, 8.1, 7.7, 7.6, 8.0, 7.3, 7.35, 8.6, 8.15, 8.05, 9.2, 9.2, 8.8, 8.85, 9.0, 7.5, 7.9, 7.9, 7.1, 6.3, 4.9, 5.7,
            5.5, 4.5, 4.55, 4.0, 4.5, 4.25, 4.4, 4.15, 4.3, 4.65, 5.15, 6.1, 5.85, 6.55, 6.8, 7.0, 7.05, 7.95, 8.5]
# cases/vaccines line, from week 11 of 2020 (19th position) to week 49 of 2021
cyan_start = 18
cyan_vals = [0.0, 2.6, 8.8, 11.7, 13.1, 10.9, 10.0, 6.8, 5.05, 3.75, 3.15, 2.7, 2.35, 1.7, 1.5, 1.5, 1.55, 1.6, 1.9, 1.85, 1.75, 1.75, 1.75, 1.45, 1.6,
             2.15, 1.9, 2.0, 1.9, 2.95, 3.25, 3.4, 3.6, 4.85, 6.6, 10.25, 12.0, 14.8, 19.9, 21.3, 22.35, 22.55, 29.3, 34.15, 34.0, 29.7, 26.8, 19.5, 19.2,
             16.75, 17.1, 16.95, 15.8, 17.6, 18.3, 19.8, 19.6, 16.65, 12.2, 9.0, 6.7, 4.8, 3.3, 2.25, 1.5, 1.3, 1.0, 0.9, 1.0, 1.55, 2.3, 4.2, 6.6, 9.35, 11.5,
             11.35, 12.1, 11.5, 11.9, 12.1, 10.85, 9.8, 9.25, 9.8, 7.6, 7.85, 8.5, 10.8, 12.55, 12.3, 6.4]
# bars: the series has its own spacing, a little tighter than the week ticks
bar_vals = [2.5, 4.05, 4.6, 9.6, 12.35, 12.95, 12.95, 7.65, 7.0, 6.6, 9.2, 8.9, 16.3, 21.9, 28.7, 28.7, 23.7, 26.3, 37.8, 42.4, 32.0, 32.0, 24.5, 16.8, 16.1,
            20.0, 16.3, 10.7, 8.3, 7.3, 7.3, 6.85, 6.3, 5.7, 5.95, 6.5, 7.65, 9.1, 9.65, 9.0, 10.0, 10.1, 10.1, 8.95, 8.35, 8.05, 7.4, 6.45, 5.2, 4.25]
weeks = list(range(45, 53)) + list(range(1, 53)) + list(range(1, 50))

S_PX = 2.535
SPAN = 148.7 / S_PX
WK_PX = 30.875


def axes_px(x0, y0, x1, y1):
    return fig.add_axes([x0 / W, 1 - y1 / H, (x1 - x0) / W, (y1 - y0) / H])


def txt(x, y, s, **kw):
    kw.setdefault('ha', 'center')
    kw.setdefault('va', 'center')
    fig.text(x / W, 1 - y / H, s, **kw)


def line(xs, ys, color='black', lw=0.5):
    fig.add_artist(Line2D([x / W for x in xs], [1 - y / H for y in ys], color=color, lw=lw, solid_joinstyle='miter'))


fig = plt.figure(figsize=(W / 300, H / 300), dpi=300)

# ---- panel A
ax = axes_px(168, 483, 3894, 1874)
ax.set_xlim(-8.5 / S_PX, (3894 - 176.5) / S_PX)
ax.set_ylim(0, 20)
ax.spines['right'].set_visible(False)
for sp in ['left', 'top', 'bottom']:
    ax.spines[sp].set_linewidth(0.6)
ax.set_yticks(range(0, 21, 2))
ax.tick_params(axis='y', length=3.8, width=0.5, pad=2.5)
xt, xl = [], []
for k in range(len(months)):
    for s in s_ticks:
        xt.append(k * SPAN + s)
        xl.append('40' if s == 40 else '')
ax.set_xticks(xt)
ax.set_xticklabels(xl)
ax.tick_params(axis='x', length=3.8, width=0.5, pad=5)

ax_top = ax.twiny()
ax_top.set_xlim(ax.get_xlim())
ax_top.set_xticks([k * SPAN + 66.5 / S_PX for k in range(len(months))])
ax_top.set_xticklabels(months)
ax_top.tick_params(axis='x', length=3.8, width=0.5, pad=3.8)
ax_top.spines['right'].set_visible(False)
ax_top.spines['top'].set_linewidth(0.6)

for k in range(1, len(months) + 1):
    ax.axvline(k * SPAN - 8.5 / S_PX, color=GRAY, lw=0.9, zorder=1)
for k in range(len(months)):
    off = k * SPAN
    w = np.array(core_s[k], dtype=float)
    if w.max() > 0:
        ax.fill_betweenx(core_n, off + 1, off + w, where=w > 0, color=ORANGE, lw=0, zorder=2)
    dots = np.array(orange_dots[k])
    ax.scatter(off + dots[:, 0], dots[:, 1], s=2.6, color=ORANGE, linewidths=0, zorder=3, clip_on=False)
    ax.vlines(off + 0.6, 0, teal_solid[k], color=TEAL_A, lw=1.2 if k < 5 else 2.2, zorder=4)
    ax.scatter([off + 0.6] * len(teal_n[k]), teal_n[k], s=2.6, color=TEAL_A, linewidths=0, zorder=4)
    if k >= 5:
        ax.add_patch(Rectangle((off + box_s[0], box_n[0]), box_s[1] - box_s[0], box_n[1] - box_n[0], fill=False,
                               ec='black', lw=1.0, ls=(0, (6.5, 2.5)), zorder=5))
ax.plot([0, (3894 - 176.5) / S_PX], [cutoff_n, cutoff_n], color='black', lw=1.2, zorder=6, solid_capstyle='butt')

txt(30, 1182, 'N MFI index', rotation=90)
txt(2012, 2011, 'S MFI index')
txt(2027, 197, 'Year and month of birth')
txt(304, 282, '2019')
txt(1360, 282, '2020')
txt(3080, 282, '2021')
for x0, x1 in [(168, 441), (491, 2225), (2276, 3886)]:
    line([x0, x0, x1, x1], [379, 322, 322, 379])

# ---- panel B
ax_l = axes_px(169, 2303, 3663, 3535)
ax_l.set_xlim((169 - 244.6) / WK_PX, (3663 - 244.6) / WK_PX)
ax_l.set_ylim(-52.5 / 16.85, 70)
ax_r = ax_l.twinx()
ax_r.set_ylim(-52.5 / 23.58, 50)
ax_l.set_zorder(ax_r.get_zorder() + 1)
ax_l.patch.set_visible(False)

for sp in ['top', 'right']:
    ax_l.spines[sp].set_visible(False)
for sp in ['left', 'bottom']:
    ax_l.spines[sp].set_linewidth(0.6)
ax_r.spines['top'].set_visible(False)
ax_r.spines['left'].set_visible(False)
ax_r.spines['bottom'].set_visible(False)
ax_r.spines['right'].set_color(CYAN)
ax_r.spines['right'].set_linewidth(1.2)
ax_r.set_yticks(range(0, 51, 10))
ax_r.tick_params(axis='y', colors=CYAN, length=3.8, width=1.0, pad=3, labelcolor=CYAN)
ax_l.set_yticks(range(0, 71, 10))
ax_l.tick_params(axis='y', length=3.8, width=0.5, pad=2.5)
wk_pos = list(range(0, len(weeks), 4))
ax_l.set_xticks(wk_pos)
ax_l.set_xticklabels([weeks[i] for i in wk_pos])
ax_l.tick_params(axis='x', length=4.8, width=0.5, pad=4)
ax_l.axhline(0, color='black', lw=0.5, zorder=1)

bar_x = (2206 - 244.6) / WK_PX + np.arange(len(bar_vals)) * (27.72 / WK_PX)
ax_r.bar(bar_x, bar_vals, width=27.72 / WK_PX, align='edge', color=BAR, edgecolor=TEAL_B, linewidth=0.5, zorder=2)
ax_l.plot(np.arange(len(cyan_vals)) + cyan_start, np.array(cyan_vals) * 70 / 50, color=CYAN, lw=1.3, zorder=3)
xm = np.arange(len(orange_pct)) - 0.32
ax_l.plot(xm, orange_pct, color='black', lw=0.9, zorder=4)
ax_l.plot(xm, teal_pct, color='black', lw=0.9, zorder=4)
ax_l.plot(xm, orange_pct, ls='none', marker='s', ms=6.2, mfc=ORANGE, mec=ORANGE, mew=0, zorder=5)
ax_l.plot(xm, teal_pct, ls='none', marker='o', ms=6.4, mfc=TEAL_B, mec=TEAL_B, mew=0, zorder=6)

txt(30, 2893, 'Reactive, %', rotation=90)
txt(3833, 2893, 'COVID-19 cases per 1000 population\nor vaccines per 5000 population', rotation=270, color=CYAN, linespacing=1.1, multialignment='center')
txt(2022, 3869, 'Year and week of birth')
for x0, x1, lab, xc in [(196.5, 415, '2019', 306), (443.6, 2020, '2020', 1232), (2050, 3626, '2021', 2838)]:
    line([x0, x0, x1, x1], [3645, 3701, 3701, 3645])
    txt(xc, 3749, lab)

# panel tags
for y0, y1, tag, title in [(50, 124, 'A', 'S and N MFI indexes'), (2168, 2235, 'B', 'Weekly COVID-19 cases and vaccinations')]:
    fig.add_artist(Rectangle((10 / W, 1 - y1 / H), 73 / W, (y1 - y0) / H, transform=fig.transFigure, fill=False, ec='#333333', lw=0.6))
    txt(46.5, (y0 + y1) / 2 + 3, tag, fontweight='bold')
    txt(113, (y0 + y1) / 2 + 3, title, ha='left')

fig.savefig('out.png', dpi=300)
